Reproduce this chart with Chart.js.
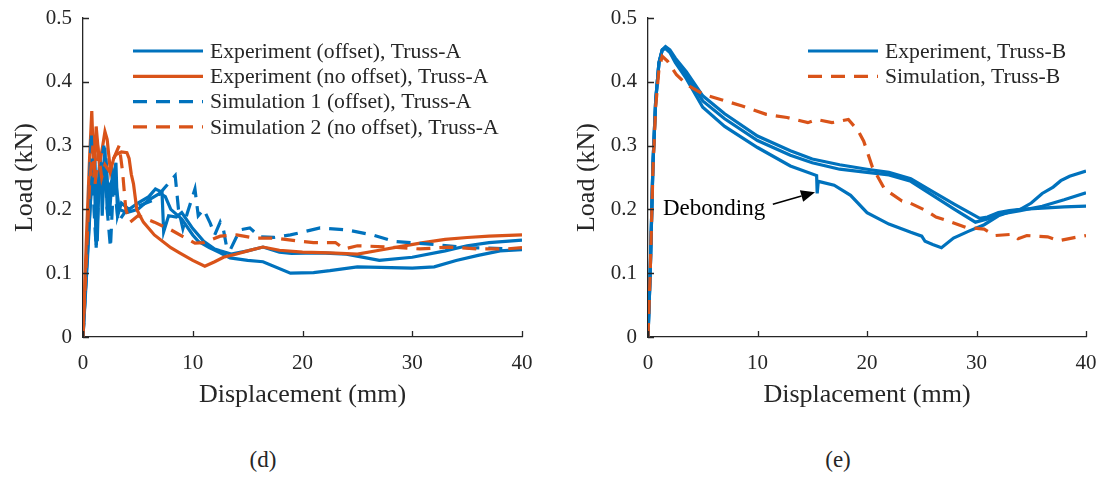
<!DOCTYPE html>
<html>
<head>
<meta charset="utf-8">
<script src="https://cdn.jsdelivr.net/npm/chart.js@4.4.1/dist/chart.umd.min.js"></script>
<style>
  body { margin: 0; background: #fff; width: 1102px; height: 479px; position: relative; overflow: hidden;
         font-family: "Liberation Serif", "Times New Roman", serif; color: #262626; }
  .box { position: absolute; top: 0; width: 551px; height: 420px; }
  #boxA { left: 0; }
  #boxB { left: 551px; }
  .cap { position: absolute; top: 447px; width: 60px; text-align: center; font-size: 23px; }
</style>
</head>
<body>
<div class="box" id="boxA"><canvas id="chartA" width="551" height="420"></canvas></div>
<div class="box" id="boxB"><canvas id="chartB" width="551" height="420"></canvas></div>
<div class="cap" style="left:233px">(d)</div>
<div class="cap" style="left:808px">(e)</div>
<script>
// ---- shared ticks ----
const xTicks = [0, 10, 20, 30, 40];
const yTicks = [0, 0.1, 0.2, 0.3, 0.4, 0.5];

// ---- (d) Truss-A ----
const expOffA1_x = [0, 0.3, 0.7, 1.0, 1.2, 1.4, 1.6, 1.75, 2.0, 2.2, 2.5, 2.8, 3.0, 3.15, 3.5, 4.2, 5, 6, 6.6, 7.2, 7.35, 7.8, 8.5, 9, 10, 11, 12, 12.5, 13.5, 15, 16.4, 17.9, 19, 21.6, 24, 27, 30, 33, 35, 37, 40];
const expOffA1_y = [0, 0.1, 0.22, 0.284, 0.14, 0.24, 0.29, 0.19, 0.297, 0.2, 0.24, 0.25, 0.273, 0.19, 0.21, 0.2, 0.21, 0.22, 0.232, 0.227, 0.165, 0.19, 0.188, 0.195, 0.17, 0.15, 0.138, 0.135, 0.13, 0.135, 0.141, 0.133, 0.131, 0.132, 0.13, 0.12, 0.125, 0.135, 0.143, 0.148, 0.152];
const expOffA2_x = [0, 0.4, 0.8, 1.1, 1.3, 1.5, 1.8, 2.1, 2.4, 2.7, 3.0, 3.3, 4, 5, 6, 7, 7.5, 8, 9, 10, 10.5, 11.5, 12.5, 13.4, 15, 16.4, 18.9, 21, 22.5, 25, 27.1, 30, 32, 34, 36, 38, 40];
const expOffA2_y = [0, 0.12, 0.25, 0.27, 0.15, 0.27, 0.23, 0.28, 0.19, 0.26, 0.24, 0.2, 0.195, 0.2, 0.215, 0.225, 0.22, 0.2, 0.185, 0.16, 0.15, 0.14, 0.132, 0.124, 0.12, 0.118, 0.1, 0.101, 0.104, 0.11, 0.109, 0.108, 0.11, 0.12, 0.128, 0.135, 0.137];
const expNoOffA_x = [0, 0.3, 0.6, 0.8, 1.0, 1.2, 1.5, 1.8, 2.0, 2.2, 2.5, 2.8, 3.0, 3.5, 4.0, 4.2, 4.4, 4.6, 4.9, 5.5, 6.5, 8, 8.8, 10, 11.1, 12, 12.8, 14, 15, 16.4, 17.9, 20, 22.5, 25, 27, 29, 31, 33, 35, 37, 40];
const expNoOffA_y = [0, 0.15, 0.28, 0.354, 0.25, 0.33, 0.27, 0.3, 0.322, 0.31, 0.26, 0.28, 0.286, 0.29, 0.289, 0.28, 0.255, 0.24, 0.2, 0.18, 0.16, 0.14, 0.132, 0.12, 0.111, 0.118, 0.125, 0.13, 0.135, 0.141, 0.136, 0.133, 0.132, 0.13, 0.136, 0.142, 0.148, 0.153, 0.156, 0.158, 0.16];
const sim1A_x = [0, 0.3, 0.55, 0.75, 1.0, 1.2, 1.5, 1.9, 2.2, 2.5, 2.8, 3.2, 4, 5, 6.5, 7.5, 8.4, 8.7, 9.1, 9.5, 10.2, 10.5, 11, 11.6, 12, 12.5, 12.8, 13.1, 13.4, 14.3, 15.2, 16.1, 17.4, 18.9, 21.6, 24, 26.4, 28.3, 31.3, 35, 40];
const sim1A_y = [0, 0.1, 0.22, 0.32, 0.2, 0.14, 0.25, 0.3, 0.2, 0.14, 0.25, 0.18, 0.2, 0.205, 0.215, 0.235, 0.253, 0.2, 0.17, 0.194, 0.232, 0.19, 0.2, 0.178, 0.16, 0.18, 0.168, 0.14, 0.136, 0.168, 0.171, 0.157, 0.156, 0.16, 0.171, 0.168, 0.16, 0.15, 0.146, 0.14, 0.138];
const sim2A_x = [0, 0.3, 0.6, 0.9, 1.1, 1.4, 1.7, 2.0, 2.4, 2.8, 3.3, 3.6, 3.9, 4.3, 5, 6.5, 8, 10.2, 11, 12.5, 14, 15.7, 17.5, 19.8, 21, 23, 23.8, 25, 28, 30.7, 33.4, 35.9, 38.5, 40];
const sim2A_y = [0, 0.12, 0.24, 0.3, 0.24, 0.29, 0.25, 0.27, 0.26, 0.28, 0.3, 0.26, 0.2, 0.18, 0.19, 0.18, 0.168, 0.147, 0.148, 0.158, 0.16, 0.155, 0.155, 0.15, 0.148, 0.148, 0.138, 0.143, 0.141, 0.138, 0.141, 0.138, 0.138, 0.14];

// ---- (e) Truss-B ----
const expB1_x = [0, 0.2, 0.45, 0.7, 1.0, 1.3, 1.6, 2.0, 2.5, 3.5, 5, 7, 10, 13, 15, 17.5, 20, 22, 24, 26, 28, 30.3, 31, 32, 33, 34, 35, 36, 37, 37.7, 38.5, 40];
const expB1_y = [0, 0.1, 0.27, 0.37, 0.43, 0.45, 0.455, 0.45, 0.437, 0.416, 0.378, 0.35, 0.315, 0.292, 0.279, 0.27, 0.263, 0.258, 0.248, 0.228, 0.208, 0.186, 0.188, 0.195, 0.198, 0.2, 0.21, 0.225, 0.235, 0.245, 0.252, 0.26];
const expB2_x = [0, 0.2, 0.45, 0.7, 1.0, 1.3, 1.6, 2.0, 2.5, 3.5, 5, 7, 10, 13, 15, 17.5, 20, 22, 24, 26, 28, 29.9, 31, 32, 34, 36, 38, 40];
const expB2_y = [0, 0.1, 0.27, 0.37, 0.43, 0.45, 0.454, 0.448, 0.434, 0.41, 0.37, 0.342, 0.308, 0.285, 0.273, 0.263, 0.258, 0.254, 0.244, 0.222, 0.2, 0.18, 0.185, 0.192, 0.198, 0.205, 0.215, 0.226];
const expB3_x = [0, 0.2, 0.45, 0.7, 1.0, 1.3, 1.6, 2.0, 2.5, 3.5, 5, 7, 10, 13, 15.4, 15.45, 15.55, 17, 18.5, 20, 22, 24, 25, 25.3, 26, 26.8, 27.9, 29.3, 30.7, 32, 33, 34, 36, 38, 40];
const expB3_y = [0, 0.1, 0.27, 0.37, 0.43, 0.45, 0.452, 0.446, 0.43, 0.405, 0.36, 0.33, 0.297, 0.268, 0.253, 0.225, 0.244, 0.238, 0.222, 0.195, 0.177, 0.164, 0.158, 0.15, 0.145, 0.14, 0.155, 0.166, 0.176, 0.19, 0.196, 0.2, 0.202, 0.204, 0.205];
const simB_x = [0, 0.2, 0.45, 0.7, 1.0, 1.3, 1.8, 2.6, 3.6, 5.1, 6.7, 8.6, 10.8, 12.7, 14.6, 15.4, 16.8, 18.3, 19.2, 19.7, 20.5, 21.6, 23.2, 23.8, 25.4, 26.3, 27.4, 29, 30.7, 31.7, 33.3, 33.8, 34.6, 36.5, 37.5, 38.7, 40];
const simB_y = [0, 0.1, 0.26, 0.36, 0.42, 0.44, 0.432, 0.411, 0.395, 0.38, 0.372, 0.362, 0.349, 0.344, 0.336, 0.341, 0.336, 0.341, 0.323, 0.307, 0.266, 0.232, 0.213, 0.211, 0.198, 0.188, 0.182, 0.172, 0.169, 0.159, 0.161, 0.154, 0.159, 0.157, 0.151, 0.155, 0.159];

// annotation for (e)
const debondLabel = 'Debonding';
const debondTextAt = [10.7, 0.2];
const debondArrowFrom = [11.4, 0.208];
const debondArrowTo = [15.25, 0.227];

const BLUE = '#0072BD';
const ORANGE = '#D95319';
const INK = '#262626';
const FONT = '"Liberation Serif", "Times New Roman", serif';

function pts(xs, ys) {
  return xs.map((x, i) => ({ x: x, y: ys[i] }));
}

function line(label, xs, ys, color, dashed, order) {
  return {
    label: label,
    data: pts(xs, ys),
    borderColor: color,
    borderWidth: 3.2,
    borderDash: dashed ? [14, 9] : [],
    pointRadius: 0,
    tension: 0,
    fill: false,
    order: order
  };
}

// legend drawn inside the plot, MATLAB style
const boxLegend = {
  id: 'boxLegend',
  afterDatasetsDraw(chart, args, opts) {
    const ctx = chart.ctx;
    let row = 0;
    ctx.save();
    ctx.font = opts.fontSize + 'px ' + FONT;
    ctx.textBaseline = 'middle';
    chart.data.datasets.forEach(ds => {
      if (!ds.label) return;
      const y = opts.top + row * opts.rowHeight;
      ctx.strokeStyle = ds.borderColor;
      ctx.lineWidth = ds.borderWidth;
      ctx.setLineDash(ds.borderDash);
      ctx.beginPath();
      ctx.moveTo(opts.lineStart, y);
      ctx.lineTo(opts.lineEnd, y);
      ctx.stroke();
      ctx.setLineDash([]);
      ctx.fillStyle = INK;
      ctx.fillText(ds.label, opts.lineEnd + 7, y + 1);
      row++;
    });
    ctx.restore();
  }
};

// inward tick marks
const inTicks = {
  id: 'inTicks',
  afterDraw(chart) {
    const ctx = chart.ctx;
    const xs = chart.scales.x, ys = chart.scales.y;
    const area = chart.chartArea;
    ctx.save();
    ctx.strokeStyle = INK;
    ctx.lineWidth = 1.3;
    ctx.beginPath();
    xs.ticks.forEach(t => {
      const px = Math.round(xs.getPixelForValue(t.value)) + 0.5;
      ctx.moveTo(px, area.bottom);
      ctx.lineTo(px, area.bottom - 6);
    });
    ys.ticks.forEach(t => {
      const py = Math.round(ys.getPixelForValue(t.value)) + 0.5;
      ctx.moveTo(area.left, py);
      ctx.lineTo(area.left + 6, py);
    });
    ctx.stroke();
    ctx.restore();
  }
};

// text + arrow annotation
const arrowNote = {
  id: 'arrowNote',
  afterDatasetsDraw(chart, args, opts) {
    if (!opts.text) return;
    const ctx = chart.ctx;
    const xs = chart.scales.x, ys = chart.scales.y;
    const tx = xs.getPixelForValue(opts.textAt[0]), ty = ys.getPixelForValue(opts.textAt[1]);
    const ax = xs.getPixelForValue(opts.from[0]), ay = ys.getPixelForValue(opts.from[1]);
    const bx = xs.getPixelForValue(opts.to[0]), by = ys.getPixelForValue(opts.to[1]);
    ctx.save();
    ctx.font = opts.fontSize + 'px ' + FONT;
    ctx.fillStyle = 'black';
    ctx.textAlign = 'right';
    ctx.textBaseline = 'middle';
    ctx.fillText(opts.text, tx, ty);
    const ang = Math.atan2(by - ay, bx - ax);
    const hl = 14, hw = 6;
    ctx.strokeStyle = 'black';
    ctx.lineWidth = 1.6;
    ctx.beginPath();
    ctx.moveTo(ax, ay);
    ctx.lineTo(bx - hl * Math.cos(ang), by - hl * Math.sin(ang));
    ctx.stroke();
    ctx.beginPath();
    ctx.moveTo(bx, by);
    ctx.lineTo(bx - hl * Math.cos(ang) + hw * Math.sin(ang), by - hl * Math.sin(ang) - hw * Math.cos(ang));
    ctx.lineTo(bx - hl * Math.cos(ang) - hw * Math.sin(ang), by - hl * Math.sin(ang) + hw * Math.cos(ang));
    ctx.closePath();
    ctx.fill();
    ctx.restore();
  }
};

function makeScales(yAxisWidth, yTitlePad) {
  return {
    x: {
      type: 'linear', min: 0, max: 40,
      afterBuildTicks: s => { s.ticks = xTicks.map(v => ({ value: v })); },
      afterFit: s => { s.height = 83; s.paddingLeft = 0; s.paddingRight = 0; },
      grid: { display: false, drawTicks: false },
      border: { display: true, color: INK, width: 1.3 },
      ticks: { color: INK, font: { family: FONT, size: 21 }, padding: 14, maxRotation: 0 },
      title: { display: true, text: 'Displacement (mm)', color: INK, font: { family: FONT, size: 26 }, padding: { top: 0, bottom: 9 } }
    },
    y: {
      type: 'linear', min: 0, max: 0.5,
      afterBuildTicks: s => { s.ticks = yTicks.map(v => ({ value: v })); },
      afterFit: s => { s.width = yAxisWidth; s.paddingTop = 0; s.paddingBottom = 0; },
      grid: { display: false, drawTicks: false },
      border: { display: true, color: INK, width: 1.3 },
      ticks: { color: INK, font: { family: FONT, size: 21 }, padding: 11, callback: v => String(v) },
      title: { display: true, text: 'Load (kN)', color: INK, font: { family: FONT, size: 26 }, padding: { top: yTitlePad, bottom: 0 } }
    }
  };
}

new Chart(document.getElementById('chartA'), {
  type: 'line',
  data: {
    datasets: [
      line('Experiment (offset), Truss-A', expOffA1_x, expOffA1_y, BLUE, false, 6),
      line('', expOffA2_x, expOffA2_y, BLUE, false, 5),
      line('Experiment (no offset), Truss-A', expNoOffA_x, expNoOffA_y, ORANGE, false, 4),
      line('Simulation 1 (offset), Truss-A', sim1A_x, sim1A_y, BLUE, true, 3),
      line('Simulation 2 (no offset), Truss-A', sim2A_x, sim2A_y, ORANGE, true, 2)
    ]
  },
  options: {
    responsive: false,
    animation: false,
    layout: { padding: { left: 0, right: 29, top: 18, bottom: 0 } },
    scales: makeScales(83, 10),
    plugins: {
      legend: { display: false },
      tooltip: { enabled: false },
      boxLegend: { top: 51, rowHeight: 25.3, lineStart: 133, lineEnd: 203, fontSize: 21.7 },
      arrowNote: {}
    }
  },
  plugins: [boxLegend, inTicks, arrowNote]
});

new Chart(document.getElementById('chartB'), {
  type: 'line',
  data: {
    datasets: [
      line('Experiment, Truss-B', expB1_x, expB1_y, BLUE, false, 6),
      line('', expB2_x, expB2_y, BLUE, false, 5),
      line('', expB3_x, expB3_y, BLUE, false, 4),
      line('Simulation, Truss-B', simB_x, simB_y, ORANGE, true, 2)
    ]
  },
  options: {
    responsive: false,
    animation: false,
    layout: { padding: { left: 0, right: 16, top: 18, bottom: 0 } },
    scales: makeScales(97, 21),
    plugins: {
      legend: { display: false },
      tooltip: { enabled: false },
      boxLegend: { top: 51, rowHeight: 25.3, lineStart: 257, lineEnd: 327, fontSize: 21.7 },
      arrowNote: { text: debondLabel, textAt: debondTextAt, from: debondArrowFrom, to: debondArrowTo, fontSize: 23 }
    }
  },
  plugins: [boxLegend, inTicks, arrowNote]
});
</script>
</body>
</html>
